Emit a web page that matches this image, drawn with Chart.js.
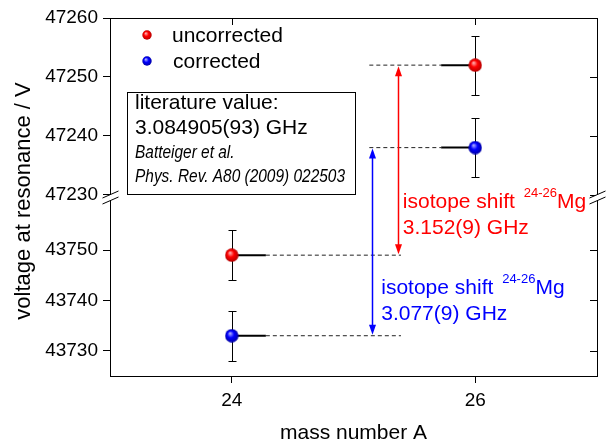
<!DOCTYPE html>
<html>
<head>
<meta charset="utf-8">
<script src="https://cdn.jsdelivr.net/npm/chart.js@4.4.1/dist/chart.umd.min.js"></script>
<style>
  html, body { margin: 0; padding: 0; background: #fff; }
  #wrap { width: 607px; height: 444px; }
</style>
</head>
<body>
<div id="wrap"><canvas id="shiftChart"></canvas></div>
<script>
// Mg 24/26 resonance voltages
const massNumbers = [24, 26];
const uncorrected = [43749, 47252];
const corrected = [43733, 47238];
const uncorrectedErr = [5, 5];
const correctedErr = [5, 5];

const massTicks = [24, 26];
const upperTicks = [47230, 47240, 47250, 47260];
const lowerTicks = [43730, 43740, 43750];

// guide lines and arrows, in mass-number units
const guideLow = [24.28, 25.39];   // solid end, dashed end (A=24 side)
const guideHigh = [25.13, 25.72];  // dashed start, solid start (A=26 side)
const arrowX = [25.364, 25.154];   // uncorrected, corrected

const FONT = "'Liberation Sans', Arial, Helvetica, sans-serif";
Chart.defaults.font.family = FONT;
Chart.defaults.color = '#000';

function axisFor(v) { return v > 45000 ? 'yUp' : 'yLow'; }

function sphere(color, light, dark, r) {
  const c = document.createElement('canvas');
  c.width = c.height = 2 * r;
  const g = c.getContext('2d');
  const grad = g.createRadialGradient(r * 0.75, r * 0.65, r * 0.05, r, r, r);
  grad.addColorStop(0, light);
  grad.addColorStop(0.45, color);
  grad.addColorStop(1, dark);
  g.fillStyle = grad;
  g.beginPath();
  g.arc(r, r, r - 0.3, 0, Math.PI * 2);
  g.fill();
  return c;
}
const redBall = sphere('#ff0000', '#ffb0b0', '#b00000', 7);
const blueBall = sphere('#0000ff', '#b0b0ff', '#0000a0', 7);
const redSmall = sphere('#ff0000', '#ffb0b0', '#b00000', 5);
const blueSmall = sphere('#0000ff', '#b0b0ff', '#0000a0', 5);

const series = [
  { name: 'uncorrected', vals: uncorrected, err: uncorrectedErr, img: redBall, color: '#ff0000' },
  { name: 'corrected', vals: corrected, err: correctedErr, img: blueBall, color: '#0000ff' }
];

const datasets = [];
series.forEach(s => {
  s.vals.forEach((v, i) => {
    datasets.push({
      type: 'scatter', label: s.name,
      data: [{ x: massNumbers[i], y: v }],
      yAxisID: axisFor(v),
      pointStyle: s.img, pointRadius: 7, order: 0
    });
  });
  const lo = s.vals[0], hi = s.vals[1];
  const solid = { type: 'line', borderColor: '#000', borderWidth: 2, pointRadius: 0, order: 1 };
  const dashed = { type: 'line', borderColor: '#222', borderWidth: 1, borderDash: [4, 3], pointRadius: 0, order: 1 };
  datasets.push(Object.assign({}, solid, { yAxisID: axisFor(lo), data: [{ x: massNumbers[0], y: lo }, { x: guideLow[0], y: lo }] }));
  datasets.push(Object.assign({}, dashed, { yAxisID: axisFor(lo), data: [{ x: guideLow[0], y: lo }, { x: guideLow[1], y: lo }] }));
  datasets.push(Object.assign({}, dashed, { yAxisID: axisFor(hi), data: [{ x: guideHigh[0], y: hi }, { x: guideHigh[1], y: hi }] }));
  datasets.push(Object.assign({}, solid, { yAxisID: axisFor(hi), data: [{ x: guideHigh[1], y: hi }, { x: massNumbers[1], y: hi }] }));
});

const errorBars = {
  id: 'errorBars',
  beforeDatasetsDraw(chart) {
    const ctx = chart.ctx, xs = chart.scales.x;
    ctx.save();
    ctx.strokeStyle = '#000';
    ctx.lineWidth = 1;
    series.forEach(s => {
      s.vals.forEach((v, i) => {
        const ys = chart.scales[axisFor(v)];
        const x = Math.round(xs.getPixelForValue(massNumbers[i])) + 0.5;
        const t = Math.round(ys.getPixelForValue(v + s.err[i])) + 0.5;
        const b = Math.round(ys.getPixelForValue(v - s.err[i])) + 0.5;
        ctx.beginPath();
        ctx.moveTo(x, t); ctx.lineTo(x, b);
        ctx.moveTo(x - 4, t); ctx.lineTo(x + 4, t);
        ctx.moveTo(x - 4, b); ctx.lineTo(x + 4, b);
        ctx.stroke();
      });
    });
    ctx.restore();
  }
};

function arrowHead(ctx, x, y, dir) {
  ctx.beginPath();
  ctx.moveTo(x, y);
  ctx.lineTo(x - 3.5, y + dir * 10);
  ctx.lineTo(x + 3.5, y + dir * 10);
  ctx.closePath();
  ctx.fill();
}

const extras = {
  id: 'extras',
  afterDatasetsDraw(chart) {
    const ctx = chart.ctx, xs = chart.scales.x;
    ctx.save();
    // double arrows between the A=24 and A=26 values
    series.forEach((s, k) => {
      const x = Math.round(xs.getPixelForValue(arrowX[k])) + 0.5;
      const yLo = chart.scales[axisFor(s.vals[0])].getPixelForValue(s.vals[0]);
      const yHi = chart.scales[axisFor(s.vals[1])].getPixelForValue(s.vals[1]);
      ctx.strokeStyle = s.color;
      ctx.fillStyle = s.color;
      ctx.lineWidth = 1.5;
      ctx.beginPath();
      ctx.moveTo(x, yHi + 6); ctx.lineTo(x, yLo - 6);
      ctx.stroke();
      arrowHead(ctx, x, yHi + 1, 1);
      arrowHead(ctx, x, yLo - 1, -1);
    });
    ctx.restore();
  },
  afterDraw(chart) {
    const ctx = chart.ctx, a = chart.chartArea;
    const xs = chart.scales.x, yu = chart.scales.yUp, yl = chart.scales.yLow;
    ctx.save();
    ctx.strokeStyle = '#000';
    ctx.lineWidth = 1;
    ctx.strokeRect(Math.round(a.left) + 0.5, Math.round(a.top) + 0.5,
      Math.round(a.right - a.left), Math.round(a.bottom - a.top));
    // inward ticks on top and right
    ctx.beginPath();
    massTicks.forEach(v => {
      const x = Math.round(xs.getPixelForValue(v)) + 0.5;
      ctx.moveTo(x, a.top); ctx.lineTo(x, a.top + 7);
    });
    upperTicks.forEach(v => {
      const y = Math.round(yu.getPixelForValue(v)) + 0.5;
      ctx.moveTo(a.right, y); ctx.lineTo(a.right - 7, y);
    });
    lowerTicks.forEach(v => {
      const y = Math.round(yl.getPixelForValue(v)) + 0.5;
      ctx.moveTo(a.right, y); ctx.lineTo(a.right - 7, y);
    });
    ctx.stroke();

    // axis break marks
    const yb = Math.round(yu.bottom);
    [Math.round(a.left) + 0.5, Math.round(a.right) + 0.5].forEach(x => {
      ctx.fillStyle = '#fff';
      ctx.beginPath();
      ctx.moveTo(x - 3, yb + 1); ctx.lineTo(x + 3, yb - 2);
      ctx.lineTo(x + 3, yb + 4); ctx.lineTo(x - 3, yb + 7);
      ctx.closePath(); ctx.fill();
      ctx.beginPath();
      ctx.moveTo(x - 8, yb + 3); ctx.lineTo(x + 8, yb - 4);
      ctx.moveTo(x - 8, yb + 9); ctx.lineTo(x + 8, yb + 2);
      ctx.stroke();
    });

    // y axis title
    ctx.fillStyle = '#000';
    ctx.font = '22px ' + FONT;
    ctx.textAlign = 'center';
    ctx.textBaseline = 'middle';
    ctx.translate(24, (a.top + a.bottom) / 2 + 4);
    ctx.rotate(-Math.PI / 2);
    ctx.fillText('voltage at resonance / V', 0, 0);
    ctx.setTransform(1, 0, 0, 1, 0, 0);

    // legend
    ctx.textAlign = 'left';
    ctx.textBaseline = 'alphabetic';
    ctx.font = '21px ' + FONT;
    ctx.drawImage(redSmall, 147 - 5, 35 - 5);
    ctx.fillText('uncorrected', 172, 42);
    ctx.drawImage(blueSmall, 147 - 5, 61 - 5);
    ctx.fillText('corrected', 173, 68);

    // literature box
    ctx.strokeRect(127.5, 92.5, 228, 102);
    ctx.fillText('literature value:', 135, 109);
    ctx.fillText('3.084905(93) GHz', 135, 134);
    ctx.font = "italic 18px 'Liberation Sans Narrow', " + FONT;
    const squeeze = Math.min(1, 210 / ctx.measureText('Phys. Rev. A80 (2009) 022503').width);
    ctx.save();
    ctx.translate(135, 0);
    ctx.scale(squeeze, 1);
    ctx.fillText('Batteiger et al.', 0, 158);
    ctx.fillText('Phys. Rev. A80 (2009) 022503', 0, 182);
    ctx.restore();

    // isotope shift labels
    function shiftLabel(color, x, y, value) {
      ctx.fillStyle = color;
      ctx.font = '21px ' + FONT;
      const head = 'isotope shift ';
      ctx.fillText(head, x, y);
      let cx = x + ctx.measureText(head).width + 3;
      ctx.font = '13px ' + FONT;
      ctx.fillText('24-26', cx, y - 11);
      cx += ctx.measureText('24-26').width;
      ctx.font = '21px ' + FONT;
      ctx.fillText('Mg', cx, y);
      ctx.fillText(value, x, y + 26);
    }
    const xr = xs.getPixelForValue(arrowX[0]);
    const xb = xs.getPixelForValue(arrowX[1]);
    shiftLabel('#ff0000', xr + 5, 208, '3.152(9) GHz');
    shiftLabel('#0000ff', xb + 9, 294, '3.077(9) GHz');
    ctx.restore();
  }
};

const yCommon = {
  type: 'linear', position: 'left', stack: 'volt',
  grid: { drawOnChartArea: false, tickLength: 7, color: '#000' },
  border: { color: '#000' },
  ticks: { color: '#000', font: { size: 19 }, padding: 5, callback: v => String(v) },
  afterFit(s) { s.width = 110; }
};

new Chart(document.getElementById('shiftChart'), {
  data: { datasets },
  options: {
    responsive: true,
    maintainAspectRatio: false,
    animation: false,
    layout: { padding: { top: 18, right: 10, left: 0, bottom: 0 } },
    plugins: { legend: { display: false }, tooltip: { enabled: false } },
    scales: {
      x: {
        type: 'linear', min: 23, max: 27,
        afterBuildTicks(s) { s.ticks = massTicks.map(v => ({ value: v })); },
        grid: { drawOnChartArea: false, tickLength: 7, color: '#000' },
        border: { color: '#000' },
        ticks: { color: '#000', font: { size: 19 }, padding: 6, callback: v => String(v) },
        title: { display: true, text: 'mass number A', color: '#000', font: { size: 21 }, padding: { top: 4, bottom: -2 } },
        afterFit(s) { s.height = 68; }
      },
      // stacked axes: the first one listed ends up at the bottom
      yLow: Object.assign({}, yCommon, {
        min: 43725, max: 43761, stackWeight: 181,
        afterBuildTicks(s) { s.ticks = lowerTicks.map(v => ({ value: v })); }
      }),
      yUp: Object.assign({}, yCommon, {
        min: 47230, max: 47260, stackWeight: 176.5,
        afterBuildTicks(s) { s.ticks = upperTicks.map(v => ({ value: v })); }
      })
    }
  },
  plugins: [errorBars, extras]
});
</script>
</body>
</html>
